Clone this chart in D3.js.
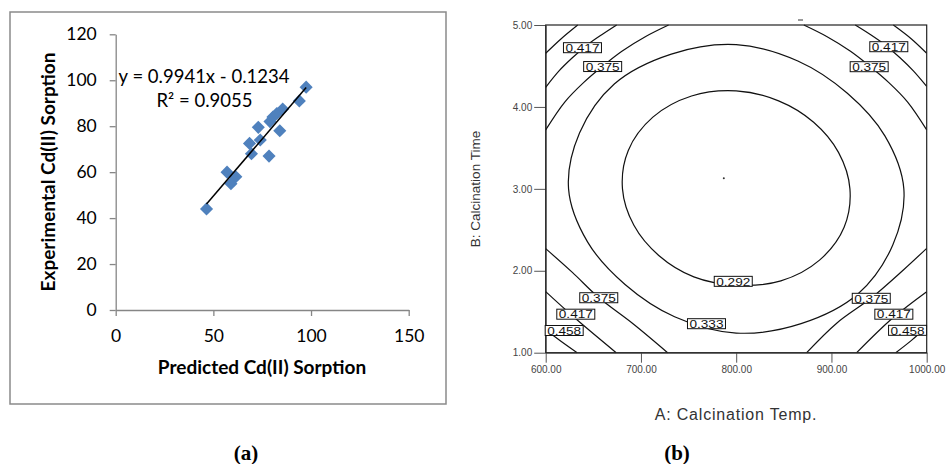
<!DOCTYPE html>
<html>
<head>
<meta charset="utf-8">
<script src="https://cdn.jsdelivr.net/npm/d3@7"></script>
<style>
  body { margin: 0; background: #fff; }
  svg { display: block; }
  .left text { font-family: Lato, "Open Sans", sans-serif; fill: #000; }
  .right .axis text { font-family: "Liberation Sans", Arial, sans-serif; font-size: 10px; fill: #444; }
</style>
</head>
<body>
<svg width="946" height="464"></svg>
<script>
// panel (a): predicted vs experimental Cd(II) sorption
const predicted    = [46.5, 57, 59, 61.5, 68.5, 69.5, 73, 74, 78.5, 79, 80.5, 82.5, 84, 85.5, 94, 97.5];
const experimental = [44, 60, 55, 58, 72.5, 68, 79.5, 74, 67, 82, 84, 85.5, 78, 87.5, 91, 97];
const slope = 0.9941, intercept = -0.1234;
const leftXTicks = [0, 50, 100, 150];
const leftYTicks = [0, 20, 40, 60, 80, 100, 120];

// panel (b): contour lines, [A temp, B time]
const rightXTicks = [600, 700, 800, 900, 1000];
const rightYTicks = [1, 2, 3, 4, 5];
const loop292 = [[919.4,3.0],[907.4,3.445],[881.3,3.813],[844.5,4.074],[800,4.196],[753.1,4.133],[712.5,3.875],
                 [686.7,3.469],[680.6,3.0],[692.6,2.555],[718.7,2.187],[755.5,1.926],[800,1.825],[846.9,1.877],
                 [887.5,2.13],[913.3,2.531]];
const loop333 = [[976,3.0],[956.1,3.647],[916.7,4.167],[864.7,4.561],[800,4.76],[731.9,4.645],[672,4.28],
                 [635.5,3.681],[624,3.0],[643.9,2.353],[683.3,1.833],[735.3,1.439],[800,1.24],[868.1,1.355],
                 [928,1.72],[964.5,2.319]];
const tl375 = [[600,3.72],[620,4.06],[640,4.3],[660,4.5],[680,4.68],[705,4.86],[729,5.0]];
const tl417 = [[600,4.24],[614,4.44],[628,4.6],[644,4.76],[660,4.89],[674.5,5]];
const tl458 = [[600,4.655],[616,4.83],[633.6,5]];
const tr375 = [[871,5],[895,4.86],[920,4.68],[940,4.5],[960,4.3],[980,4.06],[1000,3.72]];
const tr417 = [[925,5],[940,4.89],[956,4.76],[972,4.6],[986,4.44],[1000,4.25]];
const tr458 = [[965,5],[984,4.83],[1000,4.655]];
const bl375 = [[600,2.27],[628,1.98],[656,1.67],[692,1.35],[728,1.0]];
const bl417 = [[600,1.745],[631,1.42],[674,1.0]];
const bl458 = [[600,1.28],[616,1.14],[633,1.0]];
const br375 = [[874,1.0],[905.5,1.36],[942,1.67],[975.5,2.01],[1000,2.274]];
const br417 = [[926.5,1.0],[964,1.42],[1000,1.745]];
const br458 = [[967.5,1.0],[984,1.15],[1000,1.32]];
// label text, A, B
const contourLabels = [
  ['0.417', 638.6, 4.723], ['0.375', 659.8, 4.493], ['0.417', 960.2, 4.735], ['0.375', 939.6, 4.491],
  ['0.292', 796.9, 1.871], ['0.333', 768.8, 1.354],
  ['0.375', 655.7, 1.671], ['0.417', 631.6, 1.47], ['0.458', 619.4, 1.271],
  ['0.375', 941.8, 1.664], ['0.417', 965.5, 1.47], ['0.458', 979.9, 1.273]
];
const designPoints = [[787, 3.13]];

const svg = d3.select('svg');
svg.append('rect').attr('width', 946).attr('height', 464).attr('fill', '#fff');

// ---------- (a) ----------
const left = svg.append('g').attr('class', 'left');
left.append('rect')
  .attr('x', 10).attr('y', 12).attr('width', 436).attr('height', 392)
  .attr('fill', 'none').attr('stroke', '#8a8a8a').attr('stroke-width', 1.5);

const x1 = d3.scaleLinear().domain([0, 150]).range([115.7, 408.7]);
const y1 = d3.scaleLinear().domain([0, 120]).range([310, 34.3]);

const ax1 = left.append('g').attr('transform', 'translate(0,310)')
  .call(d3.axisBottom(x1).tickValues(leftXTicks).tickSize(6).tickSizeOuter(0).tickPadding(14));
const ay1 = left.append('g').attr('transform', 'translate(115.7,0)')
  .call(d3.axisLeft(y1).tickValues(leftYTicks).tickSize(6).tickSizeOuter(0).tickPadding(13));
[ax1, ay1].forEach(g => {
  g.selectAll('path, line').attr('stroke', '#868686').attr('stroke-width', 1.3);
  g.selectAll('text').style('font-size', '17.5px').attr('fill', '#000');
});

// markers
left.append('g').selectAll('path')
  .data(predicted)
  .enter()
  .append('path')
  .attr('d', d3.symbol(d3.symbolSquare, 86)())
  .attr('transform', (d, i) => `translate(${x1(d)},${y1(experimental[i])}) rotate(45)`)
  .attr('fill', '#4f81bd');

// trend line
const [xMin, xMax] = d3.extent(predicted);
left.append('line')
  .attr('x1', x1(xMin)).attr('y1', y1(slope * xMin + intercept))
  .attr('x2', x1(xMax)).attr('y2', y1(slope * xMax + intercept))
  .attr('stroke', '#000').attr('stroke-width', 1.5);

left.append('text').attr('x', 204).attr('y', 83).attr('text-anchor', 'middle')
  .style('font-size', '18.5px').text('y = 0.9941x - 0.1234');
left.append('text').attr('x', 204.5).attr('y', 107).attr('text-anchor', 'middle')
  .style('font-size', '18.5px').text('R² = 0.9055');

left.append('text').attr('x', 262).attr('y', 374).attr('text-anchor', 'middle')
  .style('font-size', '19px').style('font-weight', 'bold').text('Predicted Cd(II) Sorption');
left.append('text').attr('transform', 'translate(55,172) rotate(-90)').attr('text-anchor', 'middle')
  .style('font-size', '19px').style('font-weight', 'bold').text('Experimental Cd(II) Sorption');

// ---------- (b) ----------
const right = svg.append('g').attr('class', 'right');
const x2 = d3.scaleLinear().domain([600, 1000]).range([545.7, 926.7]);
const y2 = d3.scaleLinear().domain([1, 5]).range([352.7, 25]);
const fmt = d3.format('.2f');

const ax2 = right.append('g').attr('class', 'axis').attr('transform', 'translate(0,352.7)')
  .call(d3.axisBottom(x2).tickValues(rightXTicks).tickFormat(fmt).tickSize(10).tickSizeOuter(0).tickPadding(3));
const ay2 = right.append('g').attr('class', 'axis').attr('transform', 'translate(545.7,0)')
  .call(d3.axisLeft(y2).tickValues(rightYTicks).tickFormat(fmt).tickSize(11.5).tickSizeOuter(0).tickPadding(2));
[ax2, ay2].forEach(g => g.selectAll('path, line').attr('stroke', '#555'));

const openLine = d3.line().x(d => x2(d[0])).y(d => y2(d[1])).curve(d3.curveCatmullRom);
const closedLine = d3.line().x(d => x2(d[0])).y(d => y2(d[1])).curve(d3.curveCatmullRomClosed);
const openLines = [tl375, tl417, tl458, tr375, tr417, tr458, bl375, bl417, bl458, br375, br417, br458];
const closedLines = [loop292, loop333];

right.append('g').selectAll('path')
  .data(openLines)
  .enter()
  .append('path')
  .attr('d', openLine)
  .attr('fill', 'none').attr('stroke', '#111').attr('stroke-width', 1.2);
right.append('g').selectAll('path')
  .data(closedLines)
  .enter()
  .append('path')
  .attr('d', closedLine)
  .attr('fill', 'none').attr('stroke', '#111').attr('stroke-width', 1.2);

right.append('rect')
  .attr('x', x2(600)).attr('y', y2(5))
  .attr('width', x2(1000) - x2(600)).attr('height', y2(1) - y2(5))
  .attr('fill', 'none').attr('stroke', '#222').attr('stroke-width', 1.2);

right.selectAll('circle.dp')
  .data(designPoints)
  .enter()
  .append('circle')
  .attr('cx', d => x2(d[0])).attr('cy', d => y2(d[1])).attr('r', 1).attr('fill', '#333');
right.append('line').attr('x1', 798).attr('x2', 803).attr('y1', 20).attr('y2', 20)
  .attr('stroke', '#333').attr('stroke-width', 1);

const lab = right.append('g').selectAll('g')
  .data(contourLabels)
  .enter()
  .append('g')
  .attr('transform', d => `translate(${x2(d[1])},${y2(d[2])})`);
lab.append('rect')
  .attr('x', -19).attr('y', -5).attr('width', 38).attr('height', 10)
  .attr('fill', '#fff').attr('stroke', '#111').attr('stroke-width', 1);
lab.append('text')
  .attr('x', -17).attr('y', 4.2)
  .attr('textLength', 34).attr('lengthAdjust', 'spacingAndGlyphs')
  .style('font-family', '"Liberation Sans", Arial, sans-serif').style('font-size', '11px').attr('fill', '#111')
  .text(d => d[0]);

right.append('text').attr('x', 736).attr('y', 420).attr('text-anchor', 'middle')
  .style('font-family', '"Liberation Sans", Arial, sans-serif').style('font-size', '16px')
  .style('letter-spacing', '0.8px').attr('fill', '#333').text('A: Calcination Temp.');
right.append('text').attr('transform', 'translate(480,189) rotate(-90)').attr('text-anchor', 'middle')
  .style('font-family', '"Liberation Sans", Arial, sans-serif').style('font-size', '13.5px')
  .attr('fill', '#333').text('B: Calcination Time');

// panel captions
svg.append('text').attr('x', 246).attr('y', 460).attr('text-anchor', 'middle')
  .style('font-family', '"Liberation Serif", "Times New Roman", serif').style('font-size', '21px')
  .style('font-weight', 'bold').text('(a)');
svg.append('text').attr('x', 677).attr('y', 460).attr('text-anchor', 'middle')
  .style('font-family', '"Liberation Serif", "Times New Roman", serif').style('font-size', '21px')
  .style('font-weight', 'bold').text('(b)');
</script>
</body>
</html>
